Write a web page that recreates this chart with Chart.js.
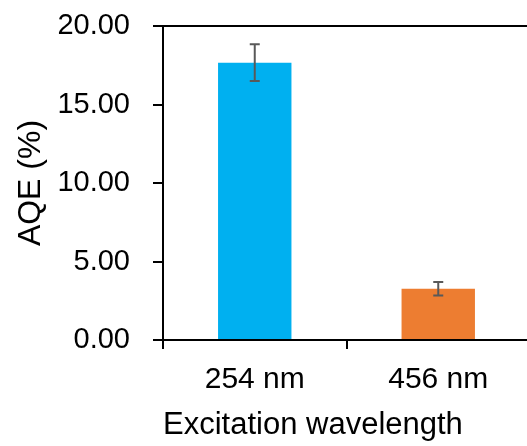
<!DOCTYPE html>
<html>
<head>
<meta charset="utf-8">
<script src="https://cdn.jsdelivr.net/npm/chart.js"></script>
<style>
  html, body { margin: 0; padding: 0; background: #fff; overflow: hidden; }
</style>
</head>
<body>
<canvas id="myChart" width="530" height="446"></canvas>
<script>
var wavelengths = ["254 nm", "456 nm"]
var aqe = [17.66, 3.27]
var aqeError = [1.17, 0.43]
var barColors = ["#00B0F0", "#ED7D31"]
var yTicks = [0, 5, 10, 15, 20]

Chart.defaults.font.family = "'Liberation Sans', Arial, sans-serif"
Chart.defaults.color = "#000"

// draws the +/- error bar on top of each column
var errorBars = {
    id: "errorBars",
    afterDatasetsDraw: function(chart){
        var ctx = chart.ctx
        var y = chart.scales.y
        var bars = chart.getDatasetMeta(0).data
        ctx.save()
        ctx.strokeStyle = "#595959"
        ctx.lineWidth = 2
        bars.forEach(function(bar, i){
            var top = y.getPixelForValue(aqe[i] + aqeError[i])
            var bottom = y.getPixelForValue(aqe[i] - aqeError[i])
            ctx.beginPath()
            ctx.moveTo(bar.x, top)
            ctx.lineTo(bar.x, bottom)
            ctx.moveTo(bar.x - 5, top)
            ctx.lineTo(bar.x + 5, top)
            ctx.moveTo(bar.x - 5, bottom)
            ctx.lineTo(bar.x + 5, bottom)
            ctx.stroke()
        })
        ctx.restore()
    }
}

var myChart = document.getElementById("myChart").getContext('2d')
var chart = new Chart(myChart, {
    type: 'bar',
    data: {
        labels: wavelengths,
        datasets: [{
            data: aqe,
            backgroundColor: barColors,
            categoryPercentage: 1,
            barPercentage: 0.4
        }]
    },
    options: {
        responsive: false,
        animation: false,
        layout: { padding: { top: 26, left: 0, right: 0, bottom: 0 } },
        plugins: {
            legend: { display: false },
            tooltip: { enabled: false }
        },
        scales: {
            x: {
                afterFit: function(scale){
                    scale.height = 106
                    scale.paddingLeft = 0
                    scale.paddingRight = 0
                },
                border: { color: "#000", width: 2 },
                grid: {
                    offset: true,
                    drawOnChartArea: false,
                    color: "#000",
                    lineWidth: 2,
                    tickLength: 9
                },
                ticks: { font: { size: 30 }, padding: 13, maxRotation: 0 },
                title: {
                    display: true,
                    text: "Excitation wavelength",
                    align: "start",
                    font: { size: 31 },
                    padding: { top: 0, bottom: 2 }
                }
            },
            y: {
                min: 0,
                max: 20,
                afterFit: function(scale){
                    scale.width = 163
                    scale.paddingTop = 0
                    scale.paddingBottom = 0
                },
                afterBuildTicks: function(scale){
                    scale.ticks = yTicks.map(function(v){ return { value: v } })
                },
                border: { color: "#000", width: 2 },
                grid: {
                    color: function(c){ return c.tick && c.tick.value === 20 ? "#000" : "rgba(0,0,0,0)" },
                    tickColor: "#000",
                    lineWidth: 2,
                    tickLength: 10
                },
                ticks: {
                    font: { size: 29 },
                    padding: 23,
                    callback: function(v){ return Number(v).toFixed(2) }
                },
                title: {
                    display: true,
                    text: "AQE (%)",
                    font: { size: 32 },
                    padding: { top: 12, bottom: 0 }
                }
            }
        }
    },
    plugins: [errorBars]
})
</script>
</body>
</html>
